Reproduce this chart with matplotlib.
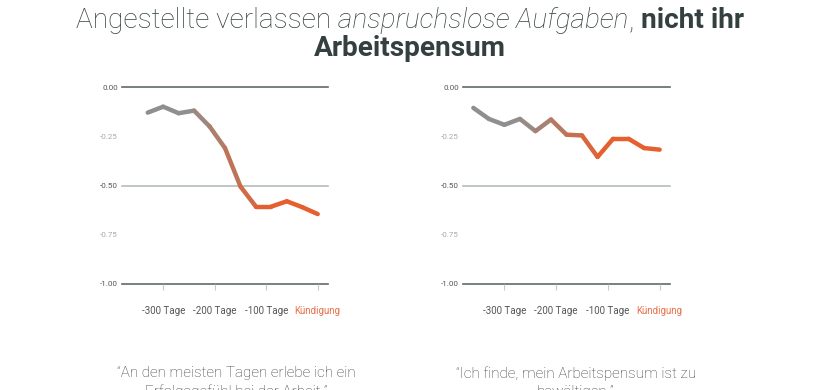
import numpy as np
import matplotlib
matplotlib.use('Agg')
import matplotlib.pyplot as plt
from matplotlib.collections import LineCollection
from matplotlib.colors import to_rgb

plt.rcParams['font.family'] = ['Roboto', 'DejaVu Sans']

# data
days_left = [-330, -300, -270, -240, -210, -180, -150, -120, -90, -60, -30, 0]
vals_left = [-0.13, -0.10, -0.133, -0.12, -0.20, -0.31, -0.505, -0.607, -0.607, -0.58, -0.61, -0.645]
days_right = [-360, -330, -300, -270, -240, -210, -180, -150, -120, -90, -60, -30, 0]
vals_right = [-0.106, -0.162, -0.192, -0.162, -0.224, -0.165, -0.242, -0.246, -0.355,
              -0.263, -0.263, -0.31, -0.318]
xticks = [-300, -200, -100, 0]
xlabels = ['-300 Tage', '-200 Tage', '-100 Tage', 'Kündigung']
yticks = [0.0, -0.25, -0.5, -0.75, -1.0]
captions = ['\u201cAn den meisten Tagen erlebe ich ein\nErfolgsgefühl bei der Arbeit.\u201d',
            '\u201cIch finde, mein Arbeitspensum ist zu\nbewältigen.\u201d']

GRAY = '#8f8f8f'
ORANGE = '#e65f2e'
DARK = '#33403f'


def grad_color(t):
    # gray -> orange along the line
    t = np.clip((t - 0.25) / 0.45, 0, 1)
    a, b = np.array(to_rgb(GRAY)), np.array(to_rgb(ORANGE))
    return a + (b - a) * t


def draw_panel(ax, days, vals):
    pts = np.column_stack([days, vals])
    segs = np.stack([pts[:-1], pts[1:]], axis=1)
    x0, x1 = days[0], days[-1]
    mids = [((s[0][0] + s[1][0]) / 2 - x0) / (x1 - x0) for s in segs]
    lc = LineCollection(segs, colors=[grad_color(m) for m in mids], linewidths=3.2,
                        capstyle='round', joinstyle='round', zorder=3)
    ax.add_collection(lc)

    ax.set_xlim(-380, 20)
    ax.set_ylim(-1, 0)
    for y, c in [(0, '#5f6b6b'), (-0.5, '#b5bcbc'), (-1, '#5f6b6b')]:
        ax.axhline(y, color=c, lw=1.2, clip_on=False, zorder=1)
    for s in ax.spines.values():
        s.set_visible(False)

    ax.set_yticks(yticks)
    ax.set_yticklabels(['%.2f' % v for v in yticks], fontsize=5.8)
    for lab, v in zip(ax.get_yticklabels(), yticks):
        lab.set_color('#555555' if v in (0.0, -0.5, -1.0) else '#a8a8a8')
    ax.tick_params(axis='y', length=0, pad=3)

    ax.set_xticks(xticks)
    ax.set_xticklabels(xlabels, fontsize=7, color='#555555')
    ax.get_xticklabels()[-1].set_color('#e8704a')
    ax.tick_params(axis='x', length=4, width=0.8, color='#c8c8c8', pad=12, direction='out')
    ax.set_facecolor('none')


fig = plt.figure(figsize=(8.2, 3.9), dpi=100)
ax1 = fig.add_axes([122 / 820, 1 - 284 / 390, 206 / 820, 197 / 390])
ax2 = fig.add_axes([463 / 820, 1 - 284 / 390, 207 / 820, 197 / 390])
draw_panel(ax1, days_left, vals_left)
draw_panel(ax2, days_right, vals_right)

# title with mixed styles
fig.canvas.draw()
rend = fig.canvas.get_renderer()
parts = [('Angestellte verlassen ', 'light', 'normal'),
         ('anspruchslose Aufgaben', 'light', 'italic'),
         (', ', 'light', 'normal'),
         ('nicht ihr', 'bold', 'normal')]
fs = 20.2
texts = []
for s, w, st in parts:
    t = fig.text(0, 0, s, fontsize=fs, fontweight=w, fontstyle=st, color=DARK,
                 va='baseline', ha='left')
    texts.append(t)
total = sum(t.get_window_extent(rend).width for t in texts)
x = (820 - total) / 2
for t in texts:
    t.set_position((x / 820, 1 - 28 / 390))
    x += t.get_window_extent(rend).width
fig.text(0.5, 1 - 56 / 390, 'Arbeitspensum', fontsize=fs, fontweight='bold', color=DARK,
         ha='center', va='baseline')

for cx, cap in zip([236, 576], captions):
    fig.text(cx / 820, 1 - 366 / 390, cap, fontsize=11, fontweight='light', color='#3a3a3a',
             ha='center', va='top', linespacing=1.35)

fig.savefig('out.png', dpi=100)
